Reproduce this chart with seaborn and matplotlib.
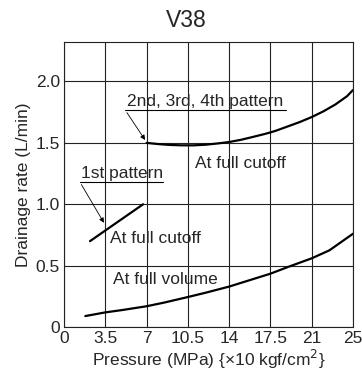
import matplotlib
matplotlib.use("Agg")
import matplotlib.pyplot as plt
import seaborn as sns
import pandas as pd

# pressure values (MPa) and drainage rate (L/min)
p_upper = [7, 8, 9, 10, 10.5, 11, 12, 13, 14, 15, 16, 17, 17.5, 18, 19, 20, 21, 22, 23, 24, 24.5]
q_upper = [1.50, 1.49, 1.483, 1.48, 1.48, 1.48, 1.485, 1.495, 1.507, 1.525, 1.548, 1.572, 1.585,
           1.60, 1.635, 1.67, 1.71, 1.757, 1.812, 1.88, 1.93]

p_first = [2.2, 6.7]
q_first = [0.70, 1.00]

p_volume = [1.8, 3.5, 5, 7, 8.5, 10.5, 12, 14, 15.5, 17.5, 19, 21, 22.5, 24.5]
q_volume = [0.09, 0.12, 0.14, 0.17, 0.20, 0.245, 0.28, 0.33, 0.375, 0.435, 0.49, 0.56, 0.625, 0.76]

x_ticks = [0, 3.5, 7, 10.5, 14, 17.5, 21, 24.5]
x_labels = ["0", "3.5", "7", "10.5", "14", "17.5", "21", "25"]
y_ticks = [0, 0.5, 1.0, 1.5, 2.0]
y_labels = ["0", "0.5", "1.0", "1.5", "2.0"]

sns.set_style("white")
plt.rcParams["font.family"] = ["Liberation Sans", "DejaVu Sans"]

fig = plt.figure(figsize=(3.62, 3.73), dpi=100)
ax = fig.add_axes([0.177, 0.123, 0.798, 0.764])

df_upper = pd.DataFrame({"p": p_upper, "q": q_upper})
df_first = pd.DataFrame({"p": p_first, "q": q_first})
df_volume = pd.DataFrame({"p": p_volume, "q": q_volume})

for d in [df_upper, df_first, df_volume]:
    sns.lineplot(data=d, x="p", y="q", ax=ax, color="black", lw=1.6, sort=False)

ax.set_xlim(0, 24.5)
ax.set_ylim(0, 2.32)
ax.set_xticks(x_ticks)
ax.set_xticklabels(x_labels)
ax.set_yticks(y_ticks)
ax.set_yticklabels(y_labels)
ax.grid(True, color="#222222", lw=0.8)
ax.tick_params(length=0, labelsize=12.5, pad=3)
for s in ax.spines.values():
    s.set_color("#222222")
    s.set_linewidth(0.8)

# title centred on the whole figure
fig.text(0.515, 0.946, "V38", fontsize=16.5, ha="center", va="center")
ax.set_xlabel("Pressure (MPa) {×10 kgf/cm$^2$}", fontsize=12.5, labelpad=1)
ax.set_ylabel("Drainage rate (L/min)", fontsize=12.5, labelpad=3)

# annotations: text with underline and arrow
ax.text(5.3, 1.775, "2nd, 3rd, 4th pattern", fontsize=12.5, va="bottom")
ax.plot([5.2, 18.8], [1.765, 1.765], color="black", lw=0.8)
ax.annotate("", xy=(7.0, 1.505), xytext=(5.2, 1.765),
            arrowprops=dict(arrowstyle="-|>", color="black", lw=0.6, mutation_scale=7))

ax.text(1.45, 1.19, "1st pattern", fontsize=12.5, va="bottom")
ax.plot([1.35, 8.4], [1.18, 1.18], color="black", lw=0.8)
ax.annotate("", xy=(3.5, 0.83), xytext=(1.35, 1.18),
            arrowprops=dict(arrowstyle="-|>", color="black", lw=0.6, mutation_scale=7))

ax.text(3.9, 0.72, "At full cutoff", fontsize=12.5, va="center")
ax.text(11.1, 1.33, "At full cutoff", fontsize=12.5, va="center")
ax.text(4.15, 0.39, "At full volume", fontsize=12.5, va="center")

fig.savefig("out.png", dpi=100)
